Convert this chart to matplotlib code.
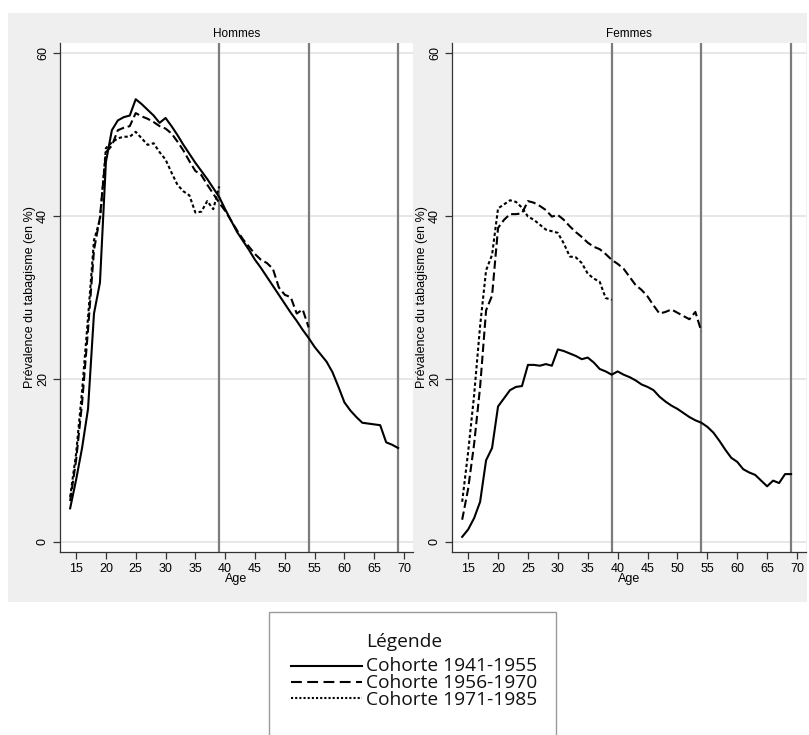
import matplotlib.pyplot as plt
from matplotlib.patches import Rectangle
from matplotlib.lines import Line2D

# ages per cohort
ages_1941 = list(range(14, 70))
ages_1956 = list(range(14, 55))
ages_1971 = list(range(14, 40))

# smoking prevalence (%), men
hommes_1941 = [4.1, 7.6, 11.5, 16.3, 28.0, 31.8, 46.6,
               50.5, 51.7, 52.1, 52.3, 54.3, 53.7, 53.0, 52.3, 51.4, 52.0,
               51.0, 49.9, 48.7, 47.6, 46.5, 45.5, 44.5, 43.4, 42.3, 40.8,
               39.4, 38.0, 36.9, 35.8, 34.6, 33.6, 32.5, 31.4, 30.3, 29.2,
               28.1, 27.1, 26.0, 25.0, 23.9, 23.0, 22.1, 20.8, 19.0, 17.1,
               16.1, 15.3, 14.6, 14.5, 14.4, 14.3, 12.2, 11.9, 11.5]
hommes_1956 = [5.0, 10.0, 17.0, 26.0, 35.8, 39.8, 47.8,
               48.6, 50.5, 50.8, 51.0, 52.6, 52.2, 51.9, 51.5, 51.0, 50.7,
               50.1, 49.1, 48.0, 46.7, 45.5, 45.0, 43.8, 42.7, 41.6, 40.6,
               39.4, 38.2, 37.1, 36.2, 35.3, 34.6, 34.2, 33.5, 31.2, 30.3,
               30.0, 28.0, 28.5, 26.3]
hommes_1971 = [5.5, 10.8, 18.5, 27.5, 37.0, 39.5, 48.3,
               49.0, 49.5, 49.7, 49.7, 50.3, 49.5, 48.7, 48.9, 47.8, 46.9,
               45.3, 43.8, 43.0, 42.5, 40.4, 40.5, 41.8, 40.8, 43.6]

# smoking prevalence (%), women
femmes_1941 = [0.6, 1.5, 2.9, 4.9, 10.0, 11.5, 16.6,
               17.6, 18.6, 19.0, 19.1, 21.7, 21.7, 21.6, 21.8, 21.6, 23.6,
               23.4, 23.1, 22.8, 22.4, 22.6, 22.0, 21.2, 20.9, 20.5, 20.9,
               20.5, 20.2, 19.8, 19.3, 19.0, 18.6, 17.8, 17.2, 16.7, 16.3,
               15.8, 15.3, 14.9, 14.6, 14.1, 13.4, 12.4, 11.3, 10.3, 9.8,
               8.9, 8.5, 8.2, 7.5, 6.8, 7.5, 7.2, 8.3, 8.3]
femmes_1956 = [2.7, 6.5, 12.0, 19.0, 28.4, 30.2, 38.5,
               39.5, 40.2, 40.2, 40.3, 41.8, 41.6, 41.2, 40.7, 39.9, 40.1,
               39.5, 38.7, 38.0, 37.4, 36.7, 36.2, 35.9, 35.3, 34.6, 34.1,
               33.5, 32.5, 31.5, 30.9, 30.1, 29.0, 28.0, 28.2, 28.5, 28.1,
               27.7, 27.3, 28.2, 25.8]
femmes_1971 = [4.9, 11.0, 18.0, 26.5, 33.3, 35.2, 40.9,
               41.4, 41.9, 41.7, 41.0, 39.9, 39.5, 38.9, 38.3, 38.1, 37.9,
               36.6, 35.0, 34.9, 34.2, 32.9, 32.3, 31.9, 29.9, 29.7]

cohort_labels = ["Cohorte 1941-1955", "Cohorte 1956-1970", "Cohorte 1971-1985"]
ref_ages = [39, 54, 69]
x_ticks = list(range(15, 75, 5))
y_ticks = [0, 20, 40, 60]

plt.rcParams["font.family"] = ["Liberation Sans", "DejaVu Sans"]

W, H = 809, 735
fig = plt.figure(figsize=(W / 100, H / 100), dpi=100)

# grey graph region (behind the axes)
fig.patches.append(Rectangle((8 / W, 1 - 602 / H), 799 / W, 589 / H,
                             transform=fig.transFigure, facecolor="#efefef",
                             edgecolor="none", zorder=-10))

styles = [dict(linestyle="-"),
          dict(linestyle=(0, (4, 1.8))),
          dict(linestyle=(0, (1.6, 1.2)))]


def draw_panel(ax, title, series):
    ax.set_facecolor("white")
    for y in y_ticks:
        ax.axhline(y, color="#e3e3e3", lw=1.2, zorder=1)
    for a in ref_ages:
        ax.axvline(a, color="#7c7c7c", lw=1.6, zorder=2)
    for (ages, vals), st in zip(series, styles):
        ax.plot(ages, vals, color="black", lw=1.5, zorder=3, **st)
    ax.set_xlim(12.3, 71.5)
    ax.set_ylim(-1.26, 61.2)
    ax.set_xticks(x_ticks)
    ax.set_yticks(y_ticks)
    ax.tick_params(axis="both", direction="out", length=5, width=0.9,
                   color="#333333", labelsize=9, pad=3)
    for lab in ax.get_yticklabels():
        lab.set_rotation(90)
        lab.set_va("center")
    for side in ["top", "right"]:
        ax.spines[side].set_visible(False)
    for side in ["left", "bottom"]:
        ax.spines[side].set_color("#333333")
        ax.spines[side].set_linewidth(0.9)
    ax.set_title(title, fontsize=8.5, pad=4)
    ax.set_xlabel("Age", fontsize=9, labelpad=-1.5)
    ax.set_ylabel("Prévalence du tabagisme (en %)", fontsize=9, labelpad=0.5)


ax1 = fig.add_axes([60 / W, 1 - 552 / H, 353 / W, 509 / H])
ax2 = fig.add_axes([452 / W, 1 - 552 / H, 354 / W, 509 / H])

draw_panel(ax1, "Hommes", [(ages_1941, hommes_1941),
                           (ages_1956, hommes_1956),
                           (ages_1971, hommes_1971)])
draw_panel(ax2, "Femmes", [(ages_1941, femmes_1941),
                           (ages_1956, femmes_1956),
                           (ages_1971, femmes_1971)])

# legend box, cut by the bottom of the image
fig.patches.append(Rectangle((269 / W, -0.05), 287 / W, 0.05 + 1 - 612 / H,
                             transform=fig.transFigure, facecolor="white",
                             edgecolor="#9a9a9a", lw=1.0, zorder=1))
leg_font = ["Open Sans", "DejaVu Sans"]
fig.text(366 / W, 1 - 647 / H, "Légende", fontsize=13.8, family=leg_font,
         ha="left", va="baseline", color="#111111")
leg_styles = [dict(linestyle="-"),
              dict(linestyle=(0, (5.2, 2.6))),
              dict(linestyle=(0, (1.0, 1.0)))]
row_gap = 16.2
for i, st in enumerate(leg_styles):
    yc = 666 + row_gap * i
    fig.add_artist(Line2D([291 / W, 362 / W], [1 - yc / H, 1 - yc / H],
                          transform=fig.transFigure, color="black", lw=1.5, **st))
# the three entries as one block of text with tight line spacing
# (va='baseline' aligns the last line)
last_base = 666 + row_gap * 2 + 6.5
fig.text(366 / W, 1 - last_base / H, "\n".join(cohort_labels),
         fontsize=13.8, family=leg_font, ha="left", va="baseline",
         linespacing=0.915, color="#111111")

fig.savefig("out.png", dpi=100, facecolor="white")
